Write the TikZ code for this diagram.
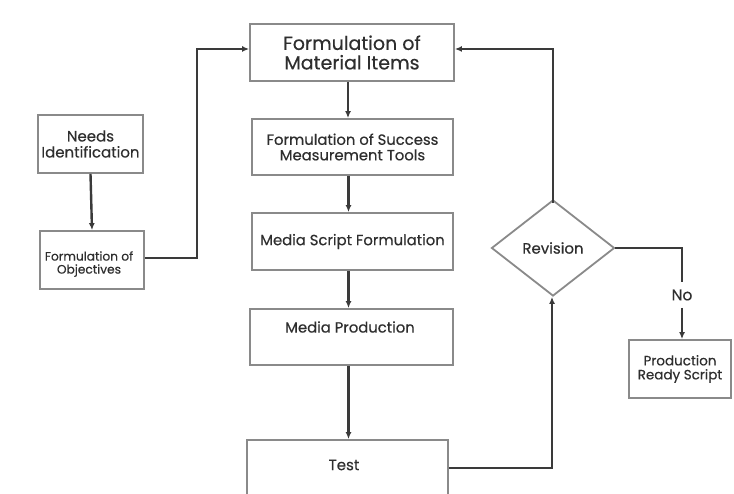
\documentclass[tikz,border=0pt]{standalone}
\usepackage{fontspec}
\setmainfont{Poppins}[FakeBold=0.4]
\usetikzlibrary{shapes.geometric,arrows.meta}
\definecolor{boxc}{HTML}{8A8A8A}
\definecolor{linec}{HTML}{3A3A3A}
\definecolor{txtc}{HTML}{2E2E2E}
\tikzset{
  box/.style={draw=boxc, line width=1.8pt, fill=white, inner sep=0pt, align=center, text=txtc},
  conn/.style={draw=linec, line width=2.4pt},
  arr/.style={conn, -{Latex[length=7pt,width=6pt]}},
  lbl/.style={text=txtc, inner sep=0pt, align=center},
}
\begin{document}
\begin{tikzpicture}[x=1pt,y=-1pt]
\useasboundingbox[fill=white] (0,0) rectangle (734,494);
% boxes
\node[box, minimum width=204pt, minimum height=57pt, font=\fontsize{19}{19.5}\selectfont] (mat) at (352,52.5) {Formulation of\\Material Items};
\node[box, minimum width=201pt, minimum height=56pt, font=\fontsize{14.8}{15.5}\selectfont] (suc) at (352.5,147) {Formulation of Success\\Measurement Tools};
\node[box, minimum width=201pt, minimum height=57pt, font=\fontsize{14.8}{16}\selectfont] (scr) at (352.5,241.5) {Media Script Formulation};
\node[box, minimum width=203pt, minimum height=56pt] (prod) at (351.5,337) {};
\node[lbl, font=\fontsize{14.8}{16}\selectfont] (prodtxt) at (350,327) {Media Production};
\node[box, minimum width=201pt, minimum height=64pt] (test) at (347.5,472) {};
\node[lbl, font=\fontsize{15}{16}\selectfont] (testtxt) at (344,465) {Test};
\node[box, minimum width=105pt, minimum height=58pt, font=\fontsize{15}{16}\selectfont] (needs) at (90.5,144) {Needs\\Identification};
\node[box, minimum width=104pt, minimum height=58pt] (obj) at (92,260) {};
\node[lbl, font=\fontsize{12.2}{13}\selectfont] (objtxt) at (89,264) {Formulation of\\Objectives};
\node[box, diamond, minimum width=123pt, minimum height=96pt, font=\fontsize{15}{16}\selectfont] (rev) at (553,248) {Revision};
\node[box, minimum width=102pt, minimum height=58pt, font=\fontsize{13.5}{14}\selectfont] (ready) at (680,369) {Production\\Ready Script};
% connectors
\draw[arr] (needs.south) -- (obj.north);
\coordinate (o1) at (197,258);
\coordinate (o2) at (197,49);
\draw[arr] (obj.east |- o1) -- (o1) -- (o2) -- (mat.west |- o2);
\draw[arr] ([xshift=-4pt]mat.south) -- ([xshift=-4pt]mat.south |- suc.north);
\draw[arr] ([xshift=-4pt]suc.south) -- ([xshift=-4pt]suc.south |- scr.north);
\draw[arr] ([xshift=-4pt]scr.south) -- ([xshift=-4pt]scr.south |- prod.north);
\draw[arr] ([xshift=-3pt]prod.south) -- ([xshift=-3pt]prod.south |- test.north);
\coordinate (t1) at (552,468);
\draw[arr] (test.east |- t1) -- (t1) -- (t1 |- rev.south);
\coordinate (r1) at (553,49);
\draw[arr] ([yshift=-4pt]rev.north) -- (r1) -- (mat.east |- r1);
\coordinate (n1) at (682,248);
\draw[conn] (rev.east) -- (n1) -- (682,282);
\draw[arr] (682,308) -- (n1 |- ready.north);
\node[lbl, font=\fontsize{15.5}{16}\selectfont] (no) at (682,295) {No};
\end{tikzpicture}
\end{document}
